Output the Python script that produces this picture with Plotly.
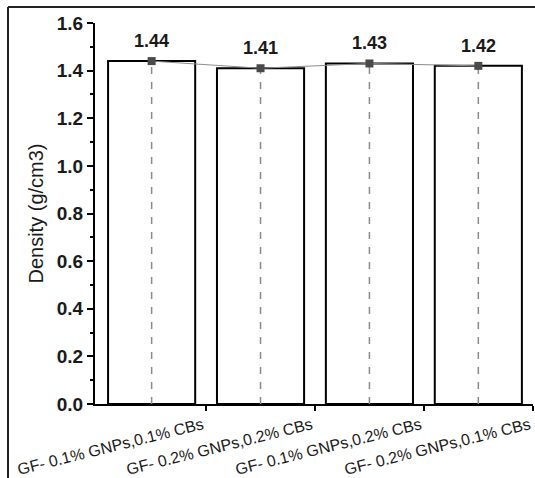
import plotly.graph_objects as go

categories = ["GF- 0.1% GNPs,0.1% CBs", "GF- 0.2% GNPs,0.2% CBs",
              "GF- 0.1% GNPs,0.2% CBs", "GF- 0.2% GNPs,0.1% CBs"]
density = [1.44, 1.41, 1.43, 1.42]
positions = [1, 2, 3, 4]
y_ticks = [0.0, 0.2, 0.4, 0.6, 0.8, 1.0, 1.2, 1.4, 1.6]

FONT = "Arial, Liberation Sans, sans-serif"
W, H = 535, 478
L, R, T, B = 95, 2, 23, 74

fig = go.Figure()

fig.add_trace(go.Bar(
    x=positions, y=density, width=0.8,
    marker=dict(color="white", line=dict(color="black", width=2)),
    showlegend=False, hoverinfo="skip"))

for p, v in zip(positions, density):
    fig.add_trace(go.Scatter(
        x=[p, p], y=[0, v], mode="lines",
        line=dict(color="#8a8a8a", width=1.5, dash="7px,8px"),
        showlegend=False, hoverinfo="skip"))

fig.add_trace(go.Scatter(
    x=positions, y=density, mode="lines+markers",
    line=dict(color="#8c8c8c", width=1),
    marker=dict(symbol="square", size=8, color="#4a4a4a"),
    showlegend=False))

for p, v in zip(positions, density):
    fig.add_annotation(x=p, y=v, text=f"<b>{v:.2f}</b>", showarrow=False,
                       yshift=20, font=dict(family=FONT, size=18, color="#1a1a1a"))

tick_pos = [p + 0.5 for p in positions]
for tp, lab in zip(tick_pos, categories):
    fig.add_annotation(x=tp, xref="x", y=-9 / (H - T - B), yref="paper",
                       text=lab, showarrow=False, textangle=-14,
                       xanchor="right", yanchor="top", xshift=2,
                       font=dict(family=FONT, size=16, color="#1a1a1a"))

pw = W - L - R
ph = H - T - B
x_left = (8 - L) / pw
y_top = (H - B - 7) / ph
fig.add_shape(type="line", xref="paper", yref="paper", x0=x_left, x1=(W + 5 - L) / pw,
              y0=y_top, y1=y_top, line=dict(color="#222", width=2))
fig.add_shape(type="line", xref="paper", yref="paper", x0=x_left, x1=x_left,
              y0=y_top, y1=-(B + 5) / ph, line=dict(color="#222", width=2))

fig.update_layout(
    width=W, height=H,
    margin=dict(l=L, r=R, t=T, b=B, autoexpand=False),
    plot_bgcolor="white", paper_bgcolor="white",
    font=dict(family=FONT, color="#1a1a1a"),
    xaxis=dict(range=[0.48, 4.502], tickvals=tick_pos,
               ticktext=["" for _ in categories], ticks="outside", ticklen=5,
               tickwidth=2, tickcolor="black", showline=True, linecolor="black",
               linewidth=2, showgrid=False, zeroline=False, automargin=False),
    yaxis=dict(range=[0, 1.6], tickvals=y_ticks,
               ticktext=[f"<b>{t:.1f}</b>" for t in y_ticks],
               ticks="outside", ticklen=6, tickwidth=2, tickcolor="black",
               minor=dict(dtick=0.1, ticks="outside", ticklen=3, tickwidth=1.5,
                          tickcolor="black"),
               showline=True, linecolor="black", linewidth=2, showgrid=False,
               zeroline=False, automargin=False,
               tickfont=dict(family=FONT, size=19, color="#1a1a1a"),
               title=dict(text="Density (g/cm3)", standoff=8,
                          font=dict(family=FONT, size=20, color="#1a1a1a"))),
)

fig.write_html("out.html", config={"displayModeBar": False},
               post_script="document.body.style.margin='0';document.body.style.overflow='hidden';")
